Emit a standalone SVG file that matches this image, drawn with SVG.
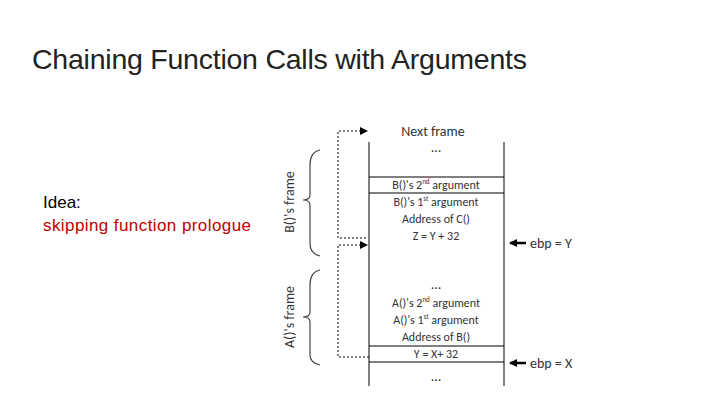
<svg xmlns="http://www.w3.org/2000/svg" width="720" height="405" viewBox="0 0 720 405">
<defs>
<style>
.t{font-family:"Liberation Sans",Arial,sans-serif}
.s{font-family:Calibri,"Carlito","Liberation Sans",sans-serif;font-size:12px;fill:#333;text-anchor:middle}
.b{font-size:14px}
.l{stroke:#000;stroke-width:1;fill:none}
.d{stroke:#000;stroke-width:1;stroke-dasharray:2,2;fill:none}
.br{stroke:#444;stroke-width:1.2;fill:none}
</style>
<marker id="a" markerWidth="8" markerHeight="8" refX="7" refY="4" orient="auto" markerUnits="userSpaceOnUse"><path d="M0,0L8,4L0,8z" fill="#000"/></marker>
</defs>
<rect width="720" height="405" fill="#fff"/>
<text class="t" x="32" y="69" font-size="28.5" fill="#222" textLength="495">Chaining Function Calls with Arguments</text>
<text class="t" x="43" y="208" font-size="17" fill="#000">Idea:</text>
<text class="t" x="43" y="231" font-size="17" fill="#c00000" textLength="208">skipping function prologue</text>
<g id="stack">
<line class="l" x1="369" y1="142" x2="369" y2="386" stroke-width="2"/>
<line class="l" x1="504" y1="142" x2="504" y2="386" stroke-width="2"/>
<line class="l" x1="369" y1="177" x2="504" y2="177"/>
<line class="l" x1="369" y1="193" x2="504" y2="193"/>
<line class="l" x1="369" y1="346" x2="504" y2="346"/>
<line class="l" x1="369" y1="362" x2="504" y2="362"/>
<text class="s b" x="433" y="136">Next frame</text>
<text class="s b" x="436" y="152">…</text>
<text class="s" x="436" y="189">B()'s 2<tspan font-size="7" dy="-5">nd</tspan><tspan dy="5"> argument</tspan></text>
<text class="s" x="436" y="206">B()'s 1<tspan font-size="7" dy="-5">st</tspan><tspan dy="5"> argument</tspan></text>
<text class="s" x="436" y="223">Address of C()</text>
<text class="s" x="436" y="240">Z = Y + 32</text>
<text class="s b" x="436" y="289">…</text>
<text class="s" x="436" y="307">A()'s 2<tspan font-size="7" dy="-5">nd</tspan><tspan dy="5"> argument</tspan></text>
<text class="s" x="436" y="324">A()'s 1<tspan font-size="7" dy="-5">st</tspan><tspan dy="5"> argument</tspan></text>
<text class="s" x="436" y="341">Address of B()</text>
<text class="s" x="436" y="358">Y = X+ 32</text>
<text class="s b" x="436" y="381">…</text>
</g>
<g id="ebpY"><text class="s b" x="530" y="248" style="text-anchor:start">ebp = Y</text></g>
<g id="ebpX"><text class="s b" x="530" y="368" style="text-anchor:start">ebp = X</text></g>
<g id="bframe">
<path class="br" d="M320,150 Q310,152 310,165 L310,195 Q310,200 303,200 Q310,200 310,205 L310,243 Q310,254 320,256"/>
<text class="s b" transform="translate(294,202) rotate(-90)">B()'s frame</text>
</g>
<g id="aframe">
<path class="br" d="M320,270 Q310,272 310,285 L310,312 Q310,317 303,317 Q310,317 310,322 L310,355 Q310,363 320,365"/>
<text class="s b" transform="translate(294,317) rotate(-90)">A()'s frame</text>
</g>
<g id="connectors">
<path class="d" d="M366,238 H338 V131 H367" marker-end="url(#a)"/>
<path class="d" d="M369,357 H338 V245 H367" marker-end="url(#a)"/>
<line x1="526" y1="243" x2="510" y2="243" stroke="#000" stroke-width="2.5" marker-end="url(#a)"/>
<line x1="526" y1="363" x2="510" y2="363" stroke="#000" stroke-width="2.5" marker-end="url(#a)"/>
</g>
</svg>
